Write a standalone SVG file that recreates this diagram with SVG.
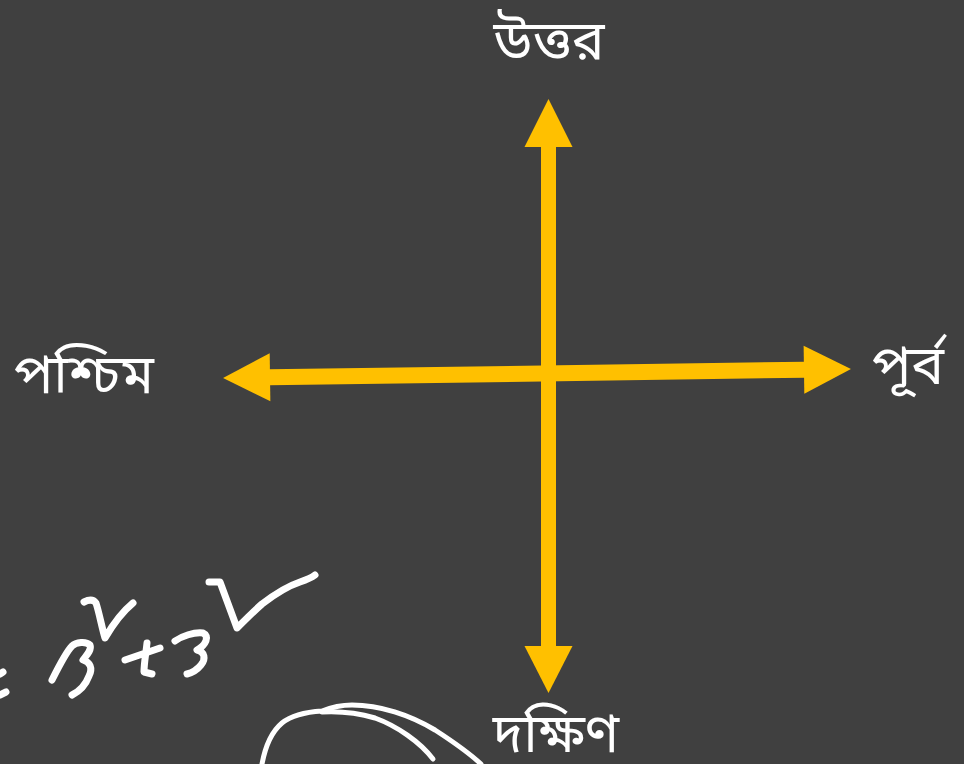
<svg xmlns="http://www.w3.org/2000/svg" width="964" height="764" viewBox="0 0 964 764">
<style>
.lbl{font-family:"Noto Sans Bengali","Noto Sans","Noto Serif Bengali","Lohit Bengali",sans-serif;font-size:55px;fill:#ffffff;}
.arrow{fill:#ffc000;}
.ink{fill:none;stroke:#ffffff;stroke-width:7;stroke-linecap:round;stroke-linejoin:round;}
.loop{fill:none;stroke:#ffffff;stroke-width:5;stroke-linecap:round;}
</style>
<rect width="964" height="764" fill="#404040"/>
<g id="connectors">
<g id="ns-arrow" class="arrow">
<rect x="541" y="146" width="15" height="501"/>
<polygon points="548.5,99 572.5,147 524.5,147"/>
<polygon points="548.5,693 572.5,646 524.5,646"/>
</g>
<g id="ew-arrow" class="arrow" transform="rotate(-0.82 537 373.5)">
<rect x="269" y="365.5" width="536" height="16"/>
<polygon points="223,373.5 270,349.5 270,397.5"/>
<polygon points="851,373.5 804,349.5 804,397.5"/>
</g>
</g>
<g id="north"><text class="lbl" x="549" y="59" text-anchor="middle">উত্তর</text></g>
<g id="west"><text class="lbl" x="84" y="393" text-anchor="middle">পশ্চিম</text></g>
<g id="east"><text class="lbl" x="908" y="384" text-anchor="middle">পূর্ব</text></g>
<g id="south"><text class="lbl" x="556" y="752" text-anchor="middle">দক্ষিণ</text></g>
<g id="handwriting">
<path class="ink" d="M0,674 L3,672 M0,695 L6,692"/>
<path class="ink" d="M52,680 C58,668 66,652 72,646 C76,642 86,641 90,645 C92,650 86,656 83,660 C90,662 93,668 89,676 C86,684 80,691 72,695"/>
<path class="ink" d="M84,602 C88,600 93,599 96,603 C99,612 102,628 105,638 C112,626 122,612 133,603"/>
<path class="ink" d="M125,660 L160,648 M147,643 C146,653 144,663 144,672 L152,674"/>
<path class="ink" d="M175,641 C182,636 194,632 203,633 C210,636 206,645 197,650 C205,652 206,659 201,665 C197,670 191,673 187,674"/>
<path class="ink" d="M209,582 L220,582 L237,628 C245,620 254,611 262,604 C275,594 288,586 300,582 C306,580 311,578 315,575"/>
<path class="loop" d="M262,764 C265,748 270,733 282,723 C292,715 306,712 322,711 C332,707 342,705 352,705 C380,705 410,715 435,730 C452,741 468,752 481,764"/>
<path class="loop" d="M322,712 C340,711 358,713 375,718 C397,726 420,742 433,759"/>
</g>
</svg>
